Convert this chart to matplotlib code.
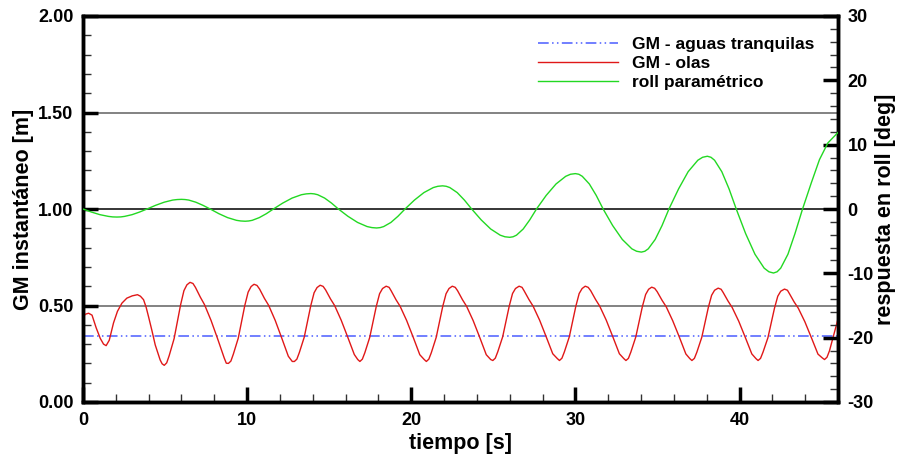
import matplotlib
matplotlib.use("Agg")
import matplotlib.pyplot as plt
from matplotlib.ticker import MultipleLocator

plt.rcParams['font.family'] = ['Liberation Sans', 'DejaVu Sans']
plt.rcParams['font.weight'] = 'bold'
plt.rcParams['axes.unicode_minus'] = False

# =====================================================
# DATOS
# =====================================================
gm_calm = 0.34  # GM en aguas tranquilas [m]

t_gm = [
    0.00, 0.15, 0.34, 0.55, 0.80, 1.05, 1.25, 1.41, 1.60, 1.86, 2.10, 2.37, 2.67,
    3.00, 3.32, 3.50, 3.69, 3.85, 3.99, 4.20, 4.40, 4.70, 4.82,
    4.95, 5.10, 5.25, 5.55, 5.75, 5.95, 6.15, 6.33, 6.52, 6.70, 6.85, 7.15, 7.40, 7.80, 8.20, 8.60, 8.73,
    8.86, 9.01, 9.16, 9.46, 9.66, 9.86, 10.06, 10.24, 10.42, 10.60, 10.76, 11.06, 11.31, 11.71, 12.11, 12.51, 12.75,
    12.88, 13.03, 13.18, 13.48, 13.68, 13.88, 14.08, 14.26, 14.45, 14.63, 14.78, 15.08, 15.33, 15.73, 16.13, 16.53, 16.74,
    16.87, 17.02, 17.17, 17.47, 17.67, 17.87, 18.07, 18.25, 18.47, 18.65, 18.77, 19.07, 19.32, 19.72, 20.12, 20.52, 20.79,
    20.92, 21.07, 21.22, 21.52, 21.72, 21.92, 22.12, 22.30, 22.50, 22.68, 22.82, 23.12, 23.37, 23.77, 24.17, 24.57, 24.84,
    24.97, 25.12, 25.27, 25.57, 25.77, 25.97, 26.17, 26.35, 26.57, 26.75, 26.87, 27.17, 27.42, 27.82, 28.22, 28.62, 28.90,
    29.03, 29.18, 29.33, 29.63, 29.83, 30.03, 30.23, 30.41, 30.60, 30.78, 30.93, 31.23, 31.48, 31.88, 32.28, 32.68, 32.95,
    33.08, 33.23, 33.38, 33.68, 33.88, 34.08, 34.28, 34.46, 34.65, 34.83, 34.98, 35.28, 35.53, 35.93, 36.33, 36.73, 36.97,
    37.10, 37.25, 37.40, 37.70, 37.90, 38.10, 38.30, 38.48, 38.70, 38.88, 39.00, 39.30, 39.55, 39.95, 40.35, 40.75, 41.00,
    41.13, 41.28, 41.43, 41.73, 41.93, 42.13, 42.33, 42.51, 42.74, 42.92, 43.03, 43.33, 43.58, 43.98, 44.38, 44.78, 45.05,
    45.18, 45.33, 45.48, 45.78, 46.00,
]
gm_waves = [
    0.440, 0.455, 0.460, 0.450, 0.385, 0.330, 0.300, 0.292, 0.320, 0.410, 0.470, 0.512, 0.538,
    0.550, 0.556, 0.548, 0.530, 0.490, 0.443, 0.370, 0.296, 0.218, 0.198,
    0.190, 0.203, 0.240, 0.328, 0.417, 0.505, 0.577, 0.607, 0.620, 0.614, 0.594, 0.543, 0.505, 0.423, 0.328, 0.229, 0.201,
    0.200, 0.212, 0.248, 0.331, 0.416, 0.501, 0.569, 0.598, 0.610, 0.604, 0.585, 0.536, 0.501, 0.423, 0.331, 0.237, 0.210,
    0.210, 0.222, 0.256, 0.336, 0.418, 0.500, 0.566, 0.593, 0.605, 0.599, 0.581, 0.534, 0.500, 0.424, 0.336, 0.246, 0.220,
    0.210, 0.222, 0.255, 0.335, 0.416, 0.496, 0.561, 0.588, 0.600, 0.594, 0.577, 0.530, 0.496, 0.422, 0.335, 0.245, 0.220,
    0.210, 0.222, 0.255, 0.335, 0.416, 0.496, 0.561, 0.588, 0.600, 0.594, 0.577, 0.530, 0.496, 0.422, 0.335, 0.245, 0.220,
    0.215, 0.227, 0.260, 0.338, 0.418, 0.497, 0.562, 0.588, 0.600, 0.594, 0.577, 0.531, 0.497, 0.424, 0.338, 0.250, 0.225,
    0.215, 0.227, 0.260, 0.338, 0.418, 0.497, 0.562, 0.588, 0.600, 0.594, 0.577, 0.531, 0.497, 0.424, 0.338, 0.250, 0.225,
    0.215, 0.226, 0.259, 0.337, 0.415, 0.494, 0.557, 0.584, 0.595, 0.589, 0.572, 0.527, 0.494, 0.421, 0.337, 0.249, 0.225,
    0.215, 0.226, 0.258, 0.335, 0.413, 0.490, 0.553, 0.579, 0.590, 0.584, 0.568, 0.523, 0.490, 0.419, 0.335, 0.249, 0.225,
    0.215, 0.226, 0.258, 0.333, 0.410, 0.486, 0.548, 0.574, 0.585, 0.579, 0.563, 0.518, 0.486, 0.416, 0.333, 0.248, 0.228,
    0.220, 0.232, 0.265, 0.360, 0.430,
]

t_roll = [
    0.00, 0.52, 1.03, 1.55, 1.81, 2.07, 2.30, 2.53, 2.99, 3.44,
    3.90, 4.42, 4.95, 5.47, 5.74, 6.00, 6.22, 6.44, 6.87, 7.31,
    7.75, 8.28, 8.81, 9.35, 9.61, 9.88, 10.10, 10.31, 10.74, 11.17,
    11.60, 12.17, 12.74, 13.31, 13.60, 13.88, 14.09, 14.30, 14.72, 15.14,
    15.56, 16.14, 16.73, 17.31, 17.60, 17.89, 18.11, 18.32, 18.76, 19.19,
    19.62, 20.19, 20.77, 21.34, 21.62, 21.91, 22.13, 22.35, 22.80, 23.24,
    23.68, 24.26, 24.84, 25.42, 25.71, 26.00, 26.20, 26.41, 26.82, 27.22,
    27.63, 28.22, 28.82, 29.41, 29.70, 30.00, 30.21, 30.42, 30.85, 31.27,
    31.69, 32.27, 32.86, 33.44, 33.73, 34.02, 34.23, 34.44, 34.86, 35.28,
    35.70, 36.29, 36.87, 37.46, 37.75, 38.04, 38.26, 38.48, 38.92, 39.36,
    39.80, 40.37, 40.94, 41.50, 41.79, 42.07, 42.29, 42.51, 42.95, 43.38,
    43.84, 44.37, 44.87, 45.38, 46.00,
]
roll = [
    0.00, -0.48, -0.88, -1.15, -1.23, -1.25, -1.23, -1.15, -0.88, -0.48,
    0.00, 0.57, 1.06, 1.39, 1.47, 1.50, 1.47, 1.39, 1.06, 0.57,
    0.00, -0.73, -1.34, -1.76, -1.86, -1.90, -1.86, -1.76, -1.34, -0.73,
    0.00, 0.92, 1.70, 2.22, 2.35, 2.40, 2.35, 2.22, 1.70, 0.92,
    0.00, -1.13, -2.09, -2.73, -2.89, -2.95, -2.89, -2.73, -2.09, -1.13,
    0.00, 1.38, 2.55, 3.33, 3.53, 3.60, 3.53, 3.33, 2.55, 1.38,
    0.00, -1.69, -3.11, -4.07, -4.32, -4.40, -4.32, -4.07, -3.11, -1.69,
    0.00, 2.11, 3.89, 5.08, 5.40, 5.50, 5.40, 5.08, 3.89, 2.11,
    0.00, -2.57, -4.74, -6.19, -6.57, -6.70, -6.57, -6.19, -4.74, -2.57,
    0.00, 3.14, 5.80, 7.58, 8.04, 8.20, 8.04, 7.58, 5.80, 3.14,
    0.00, -3.81, -7.03, -9.19, -9.76, -9.95, -9.76, -9.19, -7.03, -3.81,
    0.00, 4.04, 7.67, 10.26, 11.90,
]

grid_levels = [0.5, 1.0, 1.5]
grid_colors = ['#606060', 'black', '#606060']

# =====================================================
# FIGURA
# =====================================================
fig = plt.figure(figsize=(9.01, 4.54), dpi=100)
ax = fig.add_axes([83 / 901, 1 - 402 / 454, (838 - 83) / 901, (402 - 16) / 454])
ax2 = ax.twinx()

for lev, col in zip(grid_levels, grid_colors):
    ax.axhline(lev, color=col, lw=1.1, zorder=1)

l_calm, = ax.plot([0, 46], [gm_calm, gm_calm], color='#4a5cff', lw=1.1,
                  dashes=(7, 2.2, 1, 2.2, 1, 2.2), zorder=2,
                  label='GM - aguas tranquilas')
l_gm, = ax.plot(t_gm, gm_waves, color='#e01818', lw=1.0, zorder=3, label='GM - olas')
l_roll, = ax2.plot(t_roll, roll, color='#22d822', lw=1.0, zorder=3, label='roll paramétrico')

ax.set_xlim(0, 46)
ax.set_ylim(0, 2)
ax2.set_ylim(-30, 30)

ax.xaxis.set_major_locator(MultipleLocator(10))
ax.xaxis.set_minor_locator(MultipleLocator(2))
ax.yaxis.set_major_locator(MultipleLocator(0.5))
ax.yaxis.set_minor_locator(MultipleLocator(0.1))
ax2.yaxis.set_major_locator(MultipleLocator(10))
ax2.yaxis.set_minor_locator(MultipleLocator(2))
ax.yaxis.set_major_formatter(plt.FormatStrFormatter('%.2f'))

ax.tick_params(axis='both', which='both', direction='in', top=False, right=False)
ax.tick_params(which='major', length=11, width=2.5, labelsize=13, pad=7)
ax.tick_params(which='minor', length=6, width=1.0, color='#333333')
ax2.tick_params(axis='y', which='both', direction='in')
ax2.tick_params(which='major', length=11, width=2.5, labelsize=13, pad=7)
ax2.tick_params(which='minor', length=6, width=1.0, color='#333333')

for a in (ax, ax2):
    for s in a.spines.values():
        s.set_linewidth(2.5)

ax.set_xlabel('tiempo [s]', fontsize=15.5, fontweight='bold', labelpad=3)
ax.set_ylabel('GM instantáneo [m]', fontsize=15.5, fontweight='bold', labelpad=3)
ax2.set_ylabel('respuesta en roll [deg]', fontsize=15.5, fontweight='bold', labelpad=1)

leg = ax2.legend(handles=[l_calm, l_gm, l_roll], loc='upper left',
                 bbox_to_anchor=(538 / 901, 1 - 37 / 454), bbox_transform=fig.transFigure,
                 frameon=False, fontsize=12.5, handlelength=4.6, handletextpad=0.8,
                 labelspacing=0.22, borderpad=0, borderaxespad=0)
for txt in leg.get_texts():
    txt.set_fontweight('bold')

plt.savefig('out.png', dpi=100)
plt.close()
